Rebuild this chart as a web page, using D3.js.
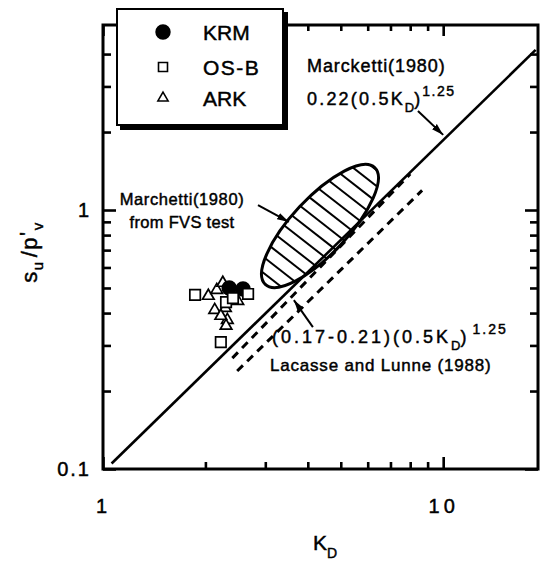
<!DOCTYPE html>
<html>
<head>
<meta charset="utf-8">
<script src="https://cdn.jsdelivr.net/npm/d3@7"></script>
<style>
  html,body{margin:0;padding:0;background:#fff;}
  #chart{width:542px;height:562px;}
  text{font-family:"Liberation Sans",Arial,Helvetica,sans-serif;fill:#000;stroke:#000;stroke-width:0.45;}
</style>
</head>
<body>
<div id="chart"></div>
<script>
// s_u/p'_v against K_D (log-log) with the Marchetti (1980) and Lacasse & Lunne (1988) correlations
const xDomain = [1, 19];
const yDomain = [0.1, 5.18];
const xMajorTicks = [1, 10];
const yMajorTicks = [0.1, 1];
const xMinorTicks = [2, 3, 4, 5, 6, 7, 8, 9];
const yMinorTicks = [0.2, 0.3, 0.4, 0.5, 0.6, 0.7, 0.8, 0.9, 2, 3, 4];

// site data [K_D, s_u/p'_v]
const krm = [[2.35, 0.500], [2.58, 0.495]];
const osb = [[1.865, 0.470], [2.67, 0.474], [2.22, 0.309], [2.30, 0.441], [2.41, 0.457]];
const ark = [[2.04, 0.466], [2.16, 0.491], [2.25, 0.523], [2.49, 0.445], [2.13, 0.411],
             [2.29, 0.418], [2.32, 0.376], [2.30, 0.357], [2.22, 0.390]];

// correlation lines
const marchettiLine = [[1.06, 0.105], [18.7, 4.15]];
const lacasseUpper = [[2.40, 0.268], [8.0, 1.377]];
const lacasseLower = [[2.48, 0.239], [8.67, 1.19]];
// FVS test zone: ends of the long axis of the hatched ellipse
const fvsAxis = [[3.00, 0.516], [6.29, 1.459]];

// annotation arrows [from, to]
const arrows = [
  [[8.43, 2.41], [10.0, 1.95]],
  [[2.855, 1.045], [3.52, 0.899]],
  [[4.14, 0.353], [3.64, 0.449]]
];

const legendItems = [
  {name: 'KRM', type: 'circle'},
  {name: 'OS-B', type: 'square'},
  {name: 'ARK', type: 'triangle'}
];

(function(){
  const container = d3.select('#chart');
  const w = 542, h = 562;
  const margin = {top:25, right:4, bottom:93, left:103};
  const width = w - margin.left - margin.right;
  const height = h - margin.top - margin.bottom;

  const svg = container.append('svg').attr('width', w).attr('height', h);
  const g = svg.append('g').attr('transform', `translate(${margin.left},${margin.top})`);

  const x = d3.scaleLog().domain(xDomain).range([0, width]);
  const y = d3.scaleLog().domain(yDomain).range([height, 0]);
  const fmt = d => d3.format('~g')(d);

  function styleAxis(sel, ls){
    sel.select('.domain').remove();
    sel.selectAll('.tick line').attr('stroke', '#000').attr('stroke-width', 2.6);
    sel.selectAll('.tick text').attr('font-size', 20).attr('letter-spacing', ls || 2)
      .attr('font-family', '"Liberation Sans",Arial,sans-serif').attr('fill', '#000');
  }

  // bottom
  g.append('g').attr('transform', `translate(0,${height})`)
    .call(d3.axisBottom(x).tickValues(xMajorTicks).tickFormat(fmt).tickSizeInner(-12).tickSizeOuter(0).tickPadding(30))
    .call(styleAxis, 4);
  g.append('g').attr('transform', `translate(0,${height})`)
    .call(d3.axisBottom(x).tickValues(xMinorTicks).tickFormat('').tickSizeInner(-7).tickSizeOuter(0))
    .call(styleAxis);
  // top
  g.append('g').call(d3.axisTop(x).tickValues(xMajorTicks).tickFormat('').tickSizeInner(-11).tickSizeOuter(0)).call(styleAxis);
  g.append('g').call(d3.axisTop(x).tickValues(xMinorTicks).tickFormat('').tickSizeInner(-6).tickSizeOuter(0)).call(styleAxis);
  // left
  g.append('g')
    .call(d3.axisLeft(y).tickValues(yMajorTicks).tickFormat(fmt).tickSizeInner(-13).tickSizeOuter(0).tickPadding(12))
    .call(styleAxis);
  g.append('g').call(d3.axisLeft(y).tickValues(yMinorTicks).tickFormat('').tickSizeInner(-8).tickSizeOuter(0)).call(styleAxis);
  // right
  g.append('g').attr('transform', `translate(${width},0)`)
    .call(d3.axisRight(y).tickValues(yMajorTicks).tickFormat('').tickSizeInner(-13).tickSizeOuter(0)).call(styleAxis);
  g.append('g').attr('transform', `translate(${width},0)`)
    .call(d3.axisRight(y).tickValues(yMinorTicks).tickFormat('').tickSizeInner(-8).tickSizeOuter(0)).call(styleAxis);

  g.append('rect').attr('width', width).attr('height', height)
    .attr('fill', 'none').attr('stroke', '#000').attr('stroke-width', 3);

  const line = d3.line().x(d => x(d[0])).y(d => y(d[1]));
  g.append('path').attr('d', line(marchettiLine)).attr('fill', 'none')
    .attr('stroke', '#000').attr('stroke-width', 2.6);
  [lacasseUpper, lacasseLower].forEach(l => {
    g.append('path').attr('d', line(l)).attr('fill', 'none')
      .attr('stroke', '#000').attr('stroke-width', 3).attr('stroke-dasharray', '8,6');
  });

  // hatched ellipse
  const p1 = [x(fvsAxis[0][0]), y(fvsAxis[0][1])];
  const p2 = [x(fvsAxis[1][0]), y(fvsAxis[1][1])];
  const ea = Math.hypot(p2[0]-p1[0], p2[1]-p1[1]) / 2;
  const eb = ea * 0.35;
  const ang = Math.atan2(p2[1]-p1[1], p2[0]-p1[0]) * 180 / Math.PI;
  const eg = g.append('g')
    .attr('transform', `translate(${(p1[0]+p2[0])/2},${(p1[1]+p2[1])/2}) rotate(${ang})`);
  svg.append('defs').append('clipPath').attr('id', 'ellclip')
    .append('ellipse').attr('rx', ea).attr('ry', eb);
  const hatch = eg.append('g').attr('clip-path', 'url(#ellclip)');
  d3.range(-ea + 8, ea, 12.6).forEach(hx => {
    hatch.append('line').attr('x1', hx - eb*0.09).attr('x2', hx + eb*0.09)
      .attr('y1', -eb).attr('y2', eb).attr('stroke', '#000').attr('stroke-width', 2);
  });
  eg.append('ellipse').attr('rx', ea).attr('ry', eb).attr('fill', 'none')
    .attr('stroke', '#000').attr('stroke-width', 3);

  // points
  const sym = {
    circle: d3.symbol().type(d3.symbolCircle).size(150),
    square: d3.symbol().type(d3.symbolSquare).size(110),
    triangle: d3.symbol().type(d3.symbolTriangle).size(58)
  };
  function drawPoints(data, type, filled){
    g.selectAll(null).data(data).enter().append('path')
      .attr('d', sym[type]())
      .attr('transform', d => `translate(${x(d[0])},${y(d[1])})`)
      .attr('fill', filled ? '#000' : '#fff')
      .attr('stroke', '#000').attr('stroke-width', 1.7);
  }
  drawPoints(ark, 'triangle', false);
  drawPoints(krm, 'circle', true);
  drawPoints(osb, 'square', false);

  // arrows
  const defs = svg.select('defs');
  defs.append('marker').attr('id', 'arr').attr('viewBox', '0 -4 12 8')
    .attr('refX', 12).attr('refY', 0).attr('markerWidth', 12).attr('markerHeight', 8)
    .attr('markerUnits', 'userSpaceOnUse').attr('orient', 'auto')
    .append('path').attr('d', 'M0,-3.5L12,0L0,3.5Z').attr('fill', '#000');
  arrows.forEach(a => {
    g.append('line').attr('x1', x(a[0][0])).attr('y1', y(a[0][1]))
      .attr('x2', x(a[1][0])).attr('y2', y(a[1][1]))
      .attr('stroke', '#000').attr('stroke-width', 2).attr('marker-end', 'url(#arr)');
  });

  // annotations
  svg.append('text').attr('x', 307).attr('y', 72).attr('font-size', 18).attr('letter-spacing', 0.9)
    .text('Marcketti(1980)');
  const f1 = svg.append('text').attr('x', 307).attr('y', 105).attr('font-size', 18);
  f1.append('tspan').attr('letter-spacing', 2.2).text('0.22(0.5K');
  f1.append('tspan').attr('font-size', 13).attr('dy', 7).text('D');
  f1.append('tspan').attr('dy', -7).text(')');
  f1.append('tspan').attr('font-size', 14).attr('dy', -9).attr('dx', 2).attr('letter-spacing', 1.5).text('1.25');

  svg.append('text').attr('x', 182).attr('y', 205).attr('text-anchor', 'middle')
    .attr('font-size', 16.5).attr('letter-spacing', 0.6).text('Marchetti(1980)');
  svg.append('text').attr('x', 182).attr('y', 228).attr('text-anchor', 'middle')
    .attr('font-size', 16.5).attr('letter-spacing', 0.3).text('from FVS test');

  const f2 = svg.append('text').attr('x', 272).attr('y', 343).attr('font-size', 18);
  f2.append('tspan').attr('letter-spacing', 3).text('(0.17-0.21)(0.5K');
  f2.append('tspan').attr('font-size', 13).attr('dy', 7).text('D');
  f2.append('tspan').attr('dy', -7).text(')');
  f2.append('tspan').attr('font-size', 14).attr('dy', -9).attr('dx', 6).attr('letter-spacing', 2).text('1.25');
  svg.append('text').attr('x', 270).attr('y', 371).attr('font-size', 17).attr('letter-spacing', 0.8)
    .text('Lacasse and Lunne (1988)');

  // axis titles
  const xt = svg.append('text').attr('x', 313).attr('y', 550).attr('font-size', 21);
  xt.append('tspan').text('K');
  xt.append('tspan').attr('font-size', 14).attr('dy', 8).text('D');

  const yt = svg.append('text').attr('transform', 'translate(37,252) rotate(-90)')
    .attr('text-anchor', 'middle').attr('font-size', 22).attr('letter-spacing', 1.5);
  yt.append('tspan').text('s');
  yt.append('tspan').attr('font-size', 15).attr('dy', 6).text('u');
  yt.append('tspan').attr('dy', -6).attr('dx', 3).text('/p');
  yt.append('tspan').attr('dy', -2).text('\'');
  yt.append('tspan').attr('font-size', 15).attr('dy', 8).text('v');

  // legend with drop shadow
  const lg = svg.append('g').attr('transform', 'translate(117,9)');
  lg.append('rect').attr('x', 3).attr('y', 3).attr('width', 168).attr('height', 118).attr('fill', '#000');
  lg.append('rect').attr('width', 166).attr('height', 116).attr('fill', '#fff')
    .attr('stroke', '#000').attr('stroke-width', 2);
  const lsym = {
    circle: d3.symbol().type(d3.symbolCircle).size(150),
    square: d3.symbol().type(d3.symbolSquare).size(81),
    triangle: d3.symbol().type(d3.symbolTriangle).size(45)
  };
  legendItems.forEach((it, i) => {
    const yy = [23, 58, 89][i];
    lg.append('path').attr('d', lsym[it.type]()).attr('transform', `translate(46,${yy})`)
      .attr('fill', it.type === 'circle' ? '#000' : '#fff').attr('stroke', '#000').attr('stroke-width', 1.6);
    lg.append('text').attr('x', 86).attr('y', yy).attr('dy', '0.36em')
      .attr('font-size', 21).attr('letter-spacing', i === 1 ? 1.5 : 0).text(it.name);
  });
})();
</script>
</body>
</html>
